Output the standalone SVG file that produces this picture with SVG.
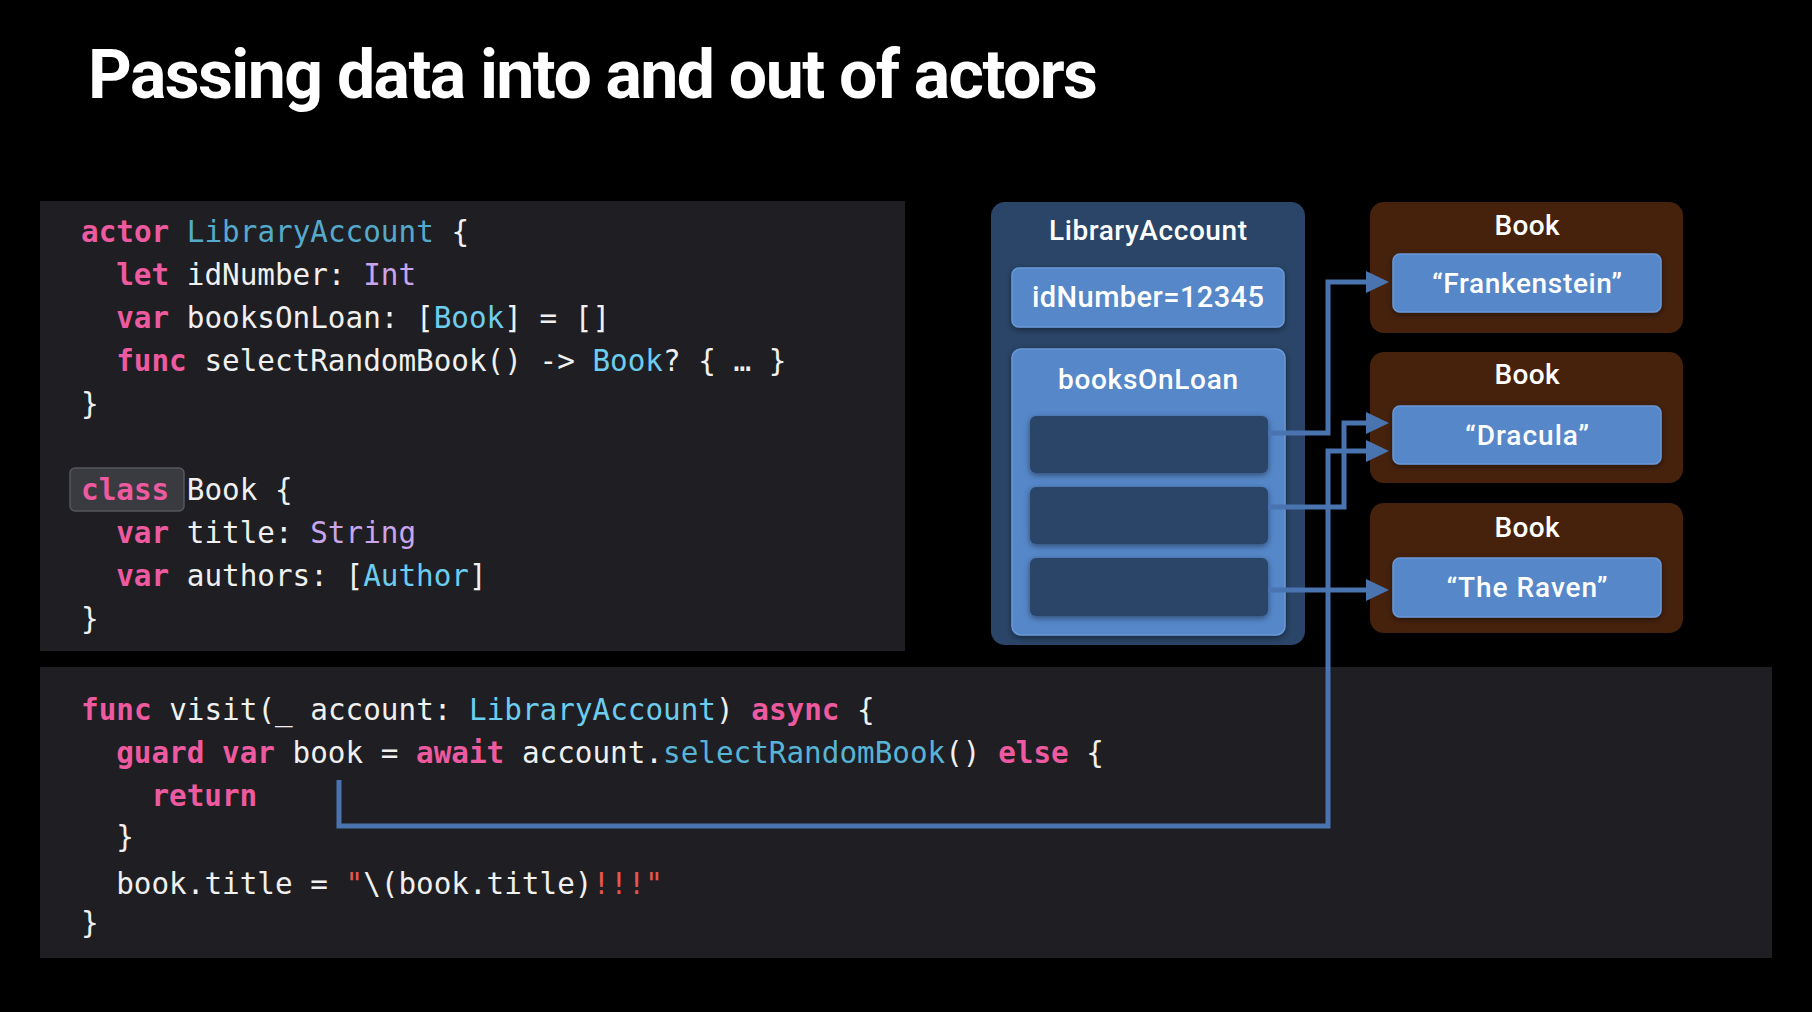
<svg xmlns="http://www.w3.org/2000/svg" width="1812" height="1012" viewBox="0 0 1812 1012">
<defs>
<style>
.code{font-family:"DejaVu Sans Mono","Liberation Mono",monospace;font-size:29.3px;fill:#f0f0f0}
.k{fill:#ee5a9f;font-weight:bold}
.d{fill:#55aacc}
.t{fill:#6ccdef}
.o{fill:#c9a5ec}
.m{fill:#58b4d6}
.s{fill:#e5564f}
.lbl{font-family:Roboto,Inter,"Liberation Sans",sans-serif;font-weight:500;fill:#ffffff;text-anchor:middle}
.panel{fill:#1f1f23}
.outer{fill:#2a4568}
.inner{fill:#5587c9;stroke:#6a98d6;stroke-width:1.5}
.slot{fill:#2b4468}
.bookbox{fill:#46220d}
.conn{fill:none;stroke:#4a74b0;stroke-width:5;stroke-linejoin:miter}
</style>
<marker id="ah" markerUnits="userSpaceOnUse" markerWidth="26" markerHeight="26" refX="0" refY="11" orient="auto">
<path d="M0,0 L23,11 L0,22 Z" fill="#4a74b0"/>
</marker>
<filter id="sh" x="-10%" y="-10%" width="120%" height="130%">
<feDropShadow dx="0" dy="2" stdDeviation="3" flood-color="#000" flood-opacity="0.45"/>
</filter>
</defs>
<rect x="0" y="0" width="1812" height="1012" fill="#000"/>
<text x="88" y="98" font-family="Roboto,'Liberation Sans',sans-serif" font-weight="bold" font-size="68" fill="#fff" textLength="1010">Passing data into and out of actors</text>

<g id="code-actor">
<rect class="panel" x="40" y="201" width="865" height="450"/>
<rect x="70" y="468" width="114" height="43" rx="5" fill="#3a3b41" stroke="#55565c" stroke-width="1.5"/>
<text class="code" x="81" y="242"><tspan class="k">actor</tspan> <tspan class="d">LibraryAccount</tspan> {</text>
<text class="code" x="116.2" y="285"><tspan class="k">let</tspan> idNumber: <tspan class="o">Int</tspan></text>
<text class="code" x="116.2" y="328"><tspan class="k">var</tspan> booksOnLoan: [<tspan class="t">Book</tspan>] = []</text>
<text class="code" x="116.2" y="371"><tspan class="k">func</tspan> selectRandomBook() -&gt; <tspan class="t">Book</tspan>? { … }</text>
<text class="code" x="81" y="414">}</text>
<text class="code" x="81" y="500"><tspan class="k">class</tspan> Book {</text>
<text class="code" x="116.2" y="543"><tspan class="k">var</tspan> title: <tspan class="o">String</tspan></text>
<text class="code" x="116.2" y="586"><tspan class="k">var</tspan> authors: [<tspan class="t">Author</tspan>]</text>
<text class="code" x="81" y="629">}</text>
</g>

<g id="code-visit">
<rect class="panel" x="40" y="667" width="1732" height="291"/>
<text class="code" x="81" y="720"><tspan class="k">func</tspan> visit(_ account: <tspan class="t">LibraryAccount</tspan>) <tspan class="k">async</tspan> {</text>
<text class="code" x="116.2" y="763"><tspan class="k">guard</tspan> <tspan class="k">var</tspan> book = <tspan class="k">await</tspan> account.<tspan class="m">selectRandomBook</tspan>() <tspan class="k">else</tspan> {</text>
<text class="code" x="151.4" y="806"><tspan class="k">return</tspan></text>
<text class="code" x="116.2" y="847">}</text>
<text class="code" x="116.2" y="894">book.title = <tspan class="s">"</tspan>\(book.title)<tspan class="s">!!!"</tspan></text>
<text class="code" x="81" y="933">}</text>
</g>

<g id="library-account">
<rect class="outer" x="991" y="202" width="314" height="443" rx="14"/>
<text class="lbl" x="1148" y="240" font-size="28" textLength="198">LibraryAccount</text>
<rect class="inner" x="1012" y="268" width="272" height="59" rx="7" filter="url(#sh)"/>
<text class="lbl" x="1148" y="307" font-size="29" textLength="232">idNumber=12345</text>
<rect class="inner" x="1012" y="349" width="273" height="286" rx="9" filter="url(#sh)"/>
<text class="lbl" x="1148" y="389" font-size="28" textLength="180">booksOnLoan</text>
<rect class="slot" x="1030" y="416" width="238" height="57" rx="6" filter="url(#sh)"/>
<rect class="slot" x="1030" y="487" width="238" height="57" rx="6" filter="url(#sh)"/>
<rect class="slot" x="1030" y="558" width="238" height="58" rx="6" filter="url(#sh)"/>
</g>

<g id="book-frankenstein">
<rect class="bookbox" x="1370" y="202" width="313" height="131" rx="14"/>
<text class="lbl" x="1527" y="235" font-size="28" textLength="65">Book</text>
<rect class="inner" x="1393" y="254" width="268" height="58" rx="7" filter="url(#sh)"/>
<text class="lbl" x="1527" y="293" font-size="28" textLength="190">“Frankenstein”</text>
</g>

<g id="book-dracula">
<rect class="bookbox" x="1370" y="352" width="313" height="131" rx="14"/>
<text class="lbl" x="1527" y="384" font-size="28" textLength="65">Book</text>
<rect class="inner" x="1393" y="406" width="268" height="58" rx="7" filter="url(#sh)"/>
<text class="lbl" x="1527" y="445" font-size="28" textLength="124">“Dracula”</text>
</g>

<g id="book-raven">
<rect class="bookbox" x="1370" y="503" width="313" height="130" rx="14"/>
<text class="lbl" x="1527" y="537" font-size="28" textLength="65">Book</text>
<rect class="inner" x="1393" y="558" width="268" height="59" rx="7" filter="url(#sh)"/>
<text class="lbl" x="1527" y="597" font-size="28" textLength="161">“The Raven”</text>
</g>

<g id="connectors">
<path class="conn" d="M1268,433 H1328 V282 H1366" marker-end="url(#ah)"/>
<path class="conn" d="M1268,507 H1344 V423 H1366" marker-end="url(#ah)"/>
<path class="conn" d="M1268,590 H1366" marker-end="url(#ah)"/>
<path class="conn" d="M339,780 V826 H1328 V451 H1366" marker-end="url(#ah)"/>
</g>
</svg>
